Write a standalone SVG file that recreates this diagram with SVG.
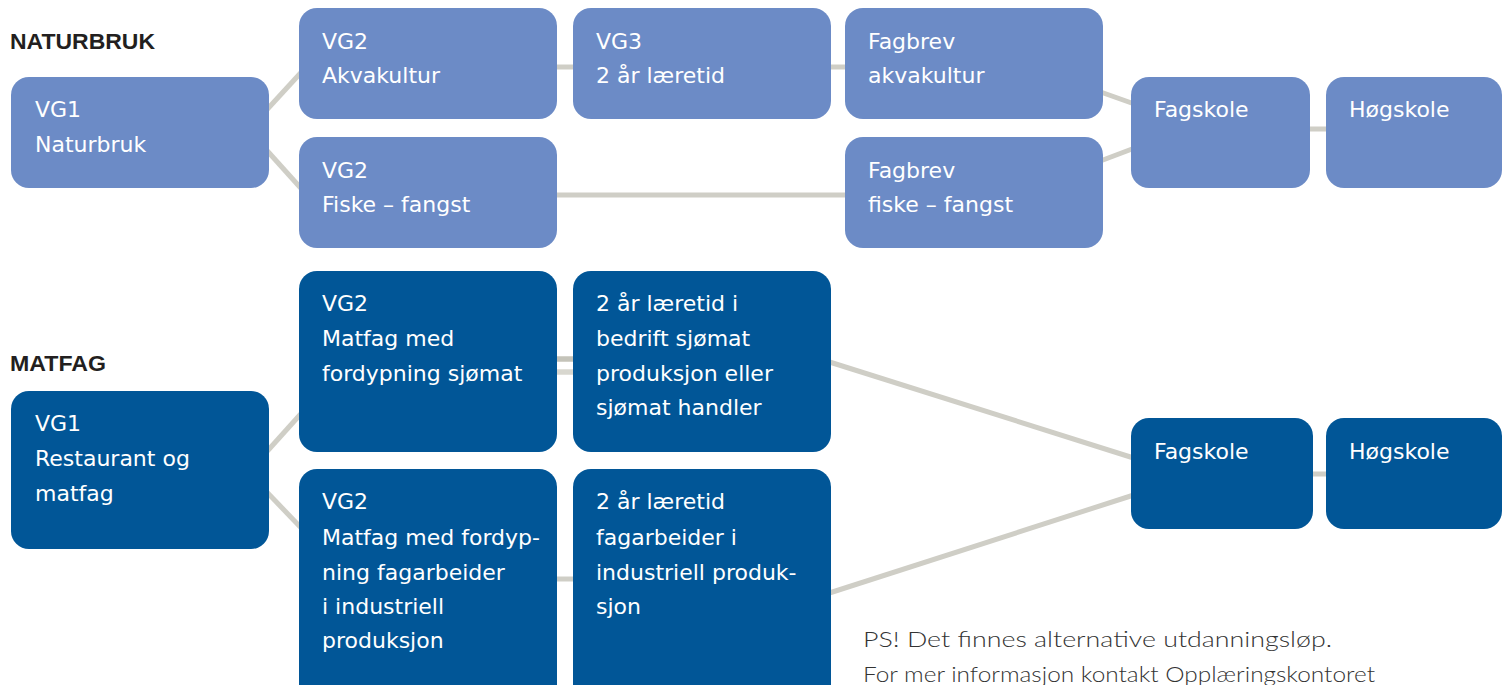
<svg xmlns="http://www.w3.org/2000/svg" width="1502" height="685" viewBox="0 0 1502 685">
<style>
.nb{fill:#6c8bc6}
.mf{fill:#015697}
.t{font-family:"DejaVu Sans",sans-serif;font-size:22px;fill:#ffffff}
.h{font-family:"Liberation Sans",Arial,sans-serif;font-size:22px;font-weight:bold;fill:#231f20}
.ps{font-family:"Lato","Open Sans",sans-serif;font-weight:300;font-size:21px;fill:#333333}
.c{stroke:#cfcec6;stroke-width:5;fill:none}
</style>
<rect width="1502" height="685" fill="#ffffff"/>
<g id="connectors">
<line class="c" x1="262" y1="115" x2="307" y2="66"/>
<line class="c" x1="262" y1="145" x2="307" y2="195"/>
<line class="c" x1="550" y1="67" x2="580" y2="67"/>
<line class="c" x1="825" y1="67" x2="852" y2="67"/>
<line class="c" x1="550" y1="195" x2="852" y2="195"/>
<line class="c" x1="1095" y1="90" x2="1140" y2="106"/>
<line class="c" x1="1095" y1="163" x2="1140" y2="146"/>
<line class="c" x1="1300" y1="129" x2="1335" y2="129"/>
<line class="c" x1="262" y1="457" x2="307" y2="407"/>
<line class="c" x1="262" y1="487" x2="307" y2="534"/>
<line x1="550" y1="359" x2="580" y2="359" stroke="#c4c3b9" stroke-width="5.5"/>
<line x1="550" y1="372" x2="580" y2="372" stroke="#d8d7cf" stroke-width="5.5"/>
<line class="c" x1="550" y1="579" x2="580" y2="579"/>
<line class="c" x1="820" y1="359" x2="1140" y2="460"/>
<line class="c" x1="820" y1="596" x2="1140" y2="493"/>
<line class="c" x1="1300" y1="474" x2="1335" y2="474"/>
</g>
<g id="header-naturbruk"><text class="h" x="10" y="49" textLength="145" lengthAdjust="spacingAndGlyphs">NATURBRUK</text></g>
<g id="header-matfag"><text class="h" x="10" y="371" textLength="96" lengthAdjust="spacingAndGlyphs">MATFAG</text></g>
<g id="vg1-naturbruk"><rect class="nb" x="11" y="77" width="258" height="111" rx="18"/>
<text class="t" x="35" y="117">VG1</text><text class="t" x="35" y="152">Naturbruk</text></g>
<g id="vg2-akvakultur"><rect class="nb" x="299" y="8" width="258" height="111" rx="18"/>
<text class="t" x="322" y="49">VG2</text><text class="t" x="322" y="83">Akvakultur</text></g>
<g id="vg3-laeretid"><rect class="nb" x="573" y="8" width="258" height="111" rx="18"/>
<text class="t" x="596" y="49">VG3</text><text class="t" x="596" y="83">2 år læretid</text></g>
<g id="fagbrev-akvakultur"><rect class="nb" x="845" y="8" width="258" height="111" rx="18"/>
<text class="t" x="868" y="49">Fagbrev</text><text class="t" x="868" y="83">akvakultur</text></g>
<g id="vg2-fiske"><rect class="nb" x="299" y="137" width="258" height="111" rx="18"/>
<text class="t" x="322" y="178">VG2</text><text class="t" x="322" y="212">Fiske – fangst</text></g>
<g id="fagbrev-fiske"><rect class="nb" x="845" y="137" width="258" height="111" rx="18"/>
<text class="t" x="868" y="178">Fagbrev</text><text class="t" x="868" y="212">fiske – fangst</text></g>
<g id="fagskole-naturbruk"><rect class="nb" x="1131" y="77" width="179" height="111" rx="18"/>
<text class="t" x="1154" y="117">Fagskole</text></g>
<g id="hogskole-naturbruk"><rect class="nb" x="1326" y="77" width="176" height="111" rx="18"/>
<text class="t" x="1349" y="117">Høgskole</text></g>
<g id="vg1-restaurant"><rect class="mf" x="11" y="391" width="258" height="158" rx="18"/>
<text class="t" x="35" y="431">VG1</text><text class="t" x="35" y="466">Restaurant og</text><text class="t" x="35" y="501">matfag</text></g>
<g id="vg2-matfag-sjomat"><rect class="mf" x="299" y="271" width="258" height="181" rx="18"/>
<text class="t" x="322" y="311">VG2</text><text class="t" x="322" y="346">Matfag med</text><text class="t" x="322" y="381">fordypning sjømat</text></g>
<g id="laeretid-sjomat"><rect class="mf" x="573" y="271" width="258" height="181" rx="18"/>
<text class="t" x="596" y="311">2 år læretid i</text><text class="t" x="596" y="346">bedrift sjømat</text><text class="t" x="596" y="381">produksjon eller</text><text class="t" x="596" y="415">sjømat handler</text></g>
<g id="vg2-matfag-industri"><rect class="mf" x="299" y="469" width="258" height="240" rx="18"/>
<text class="t" x="322" y="509">VG2</text><text class="t" x="322" y="545">Matfag med fordyp-</text><text class="t" x="322" y="580">ning fagarbeider</text><text class="t" x="322" y="614">i industriell</text><text class="t" x="322" y="648">produksjon</text></g>
<g id="laeretid-industri"><rect class="mf" x="573" y="469" width="258" height="240" rx="18"/>
<text class="t" x="596" y="509">2 år læretid</text><text class="t" x="596" y="545">fagarbeider i</text><text class="t" x="596" y="580">industriell produk-</text><text class="t" x="596" y="614">sjon</text></g>
<g id="fagskole-matfag"><rect class="mf" x="1131" y="418" width="182" height="111" rx="18"/>
<text class="t" x="1154" y="459">Fagskole</text></g>
<g id="hogskole-matfag"><rect class="mf" x="1326" y="418" width="176" height="111" rx="18"/>
<text class="t" x="1349" y="459">Høgskole</text></g>
<g id="note">
<text class="ps" x="863" y="647" textLength="469" lengthAdjust="spacingAndGlyphs">PS! Det finnes alternative utdanningsløp.</text>
<text class="ps" x="863" y="682" textLength="512" lengthAdjust="spacingAndGlyphs">For mer informasjon kontakt Opplæringskontoret</text>
</g>
</svg>
